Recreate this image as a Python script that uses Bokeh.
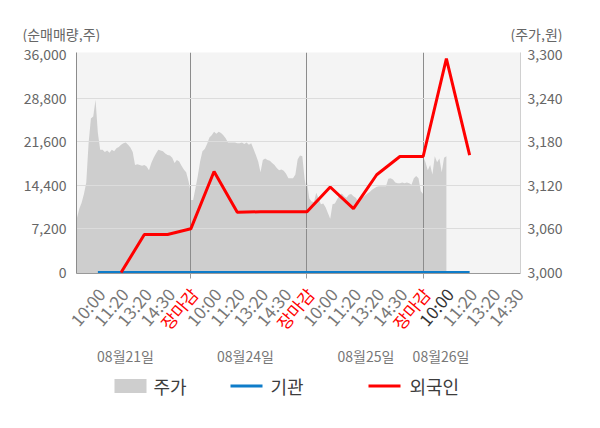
import numpy as np
from bokeh.plotting import figure
from bokeh.layouts import column
from bokeh.models import (Range1d, LinearAxis, FixedTicker, NumeralTickFormatter,
                          ColumnDataSource)
from bokeh.core.properties import value
from bokeh.embed import file_html
from bokeh.resources import INLINE

FONT = "Noto Sans CJK KR"

# ---------------- data ----------------
day_labels = ["08월21일", "08월24일", "08월25일", "08월26일"]
tick_labels = ["10:00", "11:20", "13:20", "14:30", "장마감",
               "10:00", "11:20", "13:20", "14:30", "장마감",
               "10:00", "11:20", "13:20", "14:30", "장마감",
               "10:00", "11:20", "13:20", "14:30"]

# share price (원), sampled through each trading day
price_0821 = [3075, 3075, 3088, 3096, 3108, 3124, 3178, 3212, 3215, 3238,
              3192, 3169, 3169, 3166, 3168, 3165, 3169, 3167, 3171, 3173,
              3176, 3178, 3179, 3176, 3172, 3166, 3148, 3149, 3148, 3147,
              3148, 3146, 3141, 3151, 3158, 3164, 3169, 3168, 3167, 3164,
              3162, 3161, 3158, 3151, 3155, 3153, 3147, 3142, 3138, 3126, 3110]
price_0824 = [3100, 3100, 3116, 3133, 3153, 3167, 3170, 3177, 3186, 3189,
              3194, 3191, 3194, 3192, 3189, 3185, 3179, 3179, 3179, 3179,
              3178, 3178, 3179, 3177, 3179, 3176, 3178, 3170, 3162, 3153,
              3138, 3155, 3157, 3155, 3154, 3151, 3148, 3144, 3141, 3142,
              3140, 3136, 3130, 3130, 3130, 3135, 3156, 3161, 3160, 3128, 3110]
price_0825 = [3125, 3102, 3098, 3097, 3110, 3102, 3094, 3095, 3090, 3082,
              3074, 3094, 3095, 3101, 3106, 3109, 3105, 3103, 3107, 3108,
              3105, 3103, 3098, 3100, 3103, 3106, 3109, 3111, 3114, 3116,
              3118, 3119, 3119, 3119, 3119, 3129, 3130, 3128, 3124, 3123,
              3123, 3124, 3123, 3124, 3123, 3121, 3130, 3133, 3130, 3112, 3108]
price_0826 = [3160, 3152, 3141, 3148, 3135, 3160, 3152, 3157, 3138, 3158, 3160]

# net buying volume (주) at each time slot (slots 1..17)
institution = [0, 0, 0, 0, 0, 0, 0, 0, 0, 0, 0, 0, 0, 0, 0, 0, 0]
foreign = [np.nan, 0, 6300, 6300, 7230, 16700, 9960, 10050, 10050, 10050,
           14140, 10570, 16160, 19170, 19170, 35350, 19400]

left_ticks = [0, 7200, 14400, 21600, 28800, 36000]
right_ticks = [3000, 3060, 3120, 3180, 3240, 3300]

# ---------------- layout constants ----------------
W = 600
TOP_H = 42
MAIN_H = 239
BOT_H = 428 - TOP_H - MAIN_H
BL, BR = 76, 80              # frame left / right borders
X0, X1 = 0.08, 19.19
U = (W - BL - BR) / (X1 - X0)  # px per slot
Y_START, Y_END = -150, 36350
P_LO = 3000 + 300 * Y_START / 36000
P_HI = 3000 + 300 * Y_END / 36000
GRAY = "#777777"


def bare(fig):
    fig.axis.visible = False
    fig.grid.visible = False
    fig.outline_line_color = None
    fig.background_fill_color = "white"
    fig.border_fill_color = "white"
    return fig


# ---------------- top strip (units) ----------------
top = bare(figure(width=W, height=TOP_H, x_range=Range1d(0, W), y_range=Range1d(TOP_H, 0),
                  output_backend="svg", toolbar_location=None, min_border=0,
                  frame_align=False))
top.text(x=[22], y=[33], text=["(순매매량,주)"], text_align="left", text_baseline="middle",
         text_font=value(FONT), text_font_size="14px", text_color="#666666")
top.text(x=[562], y=[33], text=["(주가,원)"], text_align="right", text_baseline="middle",
         text_font=value(FONT), text_font_size="14px", text_color="#666666")

# ---------------- main chart ----------------
p = figure(width=W, height=MAIN_H, x_range=Range1d(X0, X1), y_range=Range1d(Y_START, Y_END),
           output_backend="svg", toolbar_location=None, frame_align=False,
           min_border_left=BL, min_border_right=BR, min_border_top=10, min_border_bottom=8,
           background_fill_color="#f4f4f4", border_fill_color="white", outline_line_color=None)
p.extra_y_ranges = {"price": Range1d(P_LO, P_HI)}

ya = p.yaxis[0]
ya.ticker = FixedTicker(ticks=left_ticks)
ya.formatter = NumeralTickFormatter(format="0,0")
ya.major_tick_out = 0
ya.major_tick_in = 0
ya.major_tick_line_color = None
ya.minor_tick_line_color = None
ya.axis_line_color = "#8c8c8c"
ya.major_label_text_color = "#666666"
ya.major_label_text_font = FONT
ya.major_label_text_font_size = "14px"
ya.major_label_standoff = 10

ra = LinearAxis(y_range_name="price", ticker=FixedTicker(ticks=right_ticks),
                formatter=NumeralTickFormatter(format="0,0"))
ra.major_tick_out = 0
ra.major_tick_in = 0
ra.major_tick_line_color = None
ra.minor_tick_line_color = None
ra.axis_line_color = "#d0d0d0"
ra.major_label_text_color = "#666666"
ra.major_label_text_font = FONT
ra.major_label_text_font_size = "14px"
ra.major_label_standoff = 7
p.add_layout(ra, "right")

xa = p.xaxis[0]
xa.ticker = FixedTicker(ticks=[5, 10, 15])
xa.major_label_overrides = {5: "", 10: "", 15: ""}
xa.major_label_text_font_size = "0px"
xa.major_label_standoff = 0
xa.major_tick_out = 5
xa.major_tick_in = 0
xa.minor_tick_line_color = None
xa.axis_line_color = "#999999"
xa.major_tick_line_color = "#999999"

p.ygrid.ticker = FixedTicker(ticks=left_ticks[1:-1])
p.ygrid.grid_line_color = "#dcdcdc"
p.ygrid.level = "underlay"
p.xgrid.ticker = FixedTicker(ticks=[5, 10, 15])
p.xgrid.grid_line_color = "#8c8c8c"
p.xgrid.level = "underlay"

days = [price_0821, price_0824, price_0825, price_0826]
px = np.concatenate([5 * d + 0.1 * np.arange(len(v)) for d, v in enumerate(days)])
py = np.concatenate([np.array(v, dtype=float) for v in days])
p.varea(x=px, y1=P_LO, y2=py, y_range_name="price", fill_color="#cecece", level="image")

slots = np.arange(1, len(foreign) + 1)
p.line(x=slots, y=institution, line_color="#0e7cc9", line_width=3)
p.line(x=slots, y=foreign, line_color="#ff0000", line_width=3)

# ---------------- bottom strip (x labels, dates, legend) ----------------
bx0 = X0 - BL / U
bx1 = X1 + BR / U
bot = bare(figure(width=W, height=BOT_H, x_range=Range1d(bx0, bx1), y_range=Range1d(BOT_H, 0),
                  output_backend="svg", toolbar_location=None, min_border=0,
                  frame_align=False))

OFF = TOP_H + MAIN_H
LBL_Y = 290 - OFF
cols = []
for i, t in enumerate(tick_labels):
    if t == "장마감":
        cols.append("#ff0000")
    elif i == 15:
        cols.append("#333333")
    else:
        cols.append(GRAY)
src = ColumnDataSource(dict(x=np.arange(1, len(tick_labels) + 1), y=[LBL_Y] * len(tick_labels),
                            t=tick_labels, c=cols))
bot.text(x="x", y="y", text="t", text_color="c", source=src, angle=50, angle_units="deg",
         text_align="right", text_baseline="middle", x_offset=3,
         text_font=value(FONT), text_font_size="17px")

DATE_Y = 355 - OFF
day_pos = [2.19, 7.35, 12.54, 15.77]
bot.text(x=day_pos, y=[DATE_Y] * 4, text=day_labels, text_align="center",
         text_baseline="middle", text_font=value(FONT), text_font_size="14px",
         text_color=GRAY)


def pxd(pxl):
    """page pixel -> slot units of the bottom strip"""
    return bx0 + pxl / U


LEG_Y = 385.5 - OFF
bot.quad(left=[pxd(114)], right=[pxd(146)], top=[LEG_Y - 7], bottom=[LEG_Y + 7],
         fill_color="#cecece", line_color=None)
bot.line(x=[pxd(230), pxd(262)], y=[LEG_Y, LEG_Y], line_color="#0e7cc9", line_width=3)
bot.line(x=[pxd(368), pxd(400)], y=[LEG_Y, LEG_Y], line_color="#ff0000", line_width=3)
bot.text(x=[pxd(153), pxd(270), pxd(409)], y=[LEG_Y] * 3, text=["주가", "기관", "외국인"],
         text_align="left", text_baseline="middle", text_font=value(FONT),
         text_font_size="18px", text_color="#3c3c3c")

layout = column(top, p, bot, spacing=0)
open("out.html", "w").write(file_html(layout, INLINE))
